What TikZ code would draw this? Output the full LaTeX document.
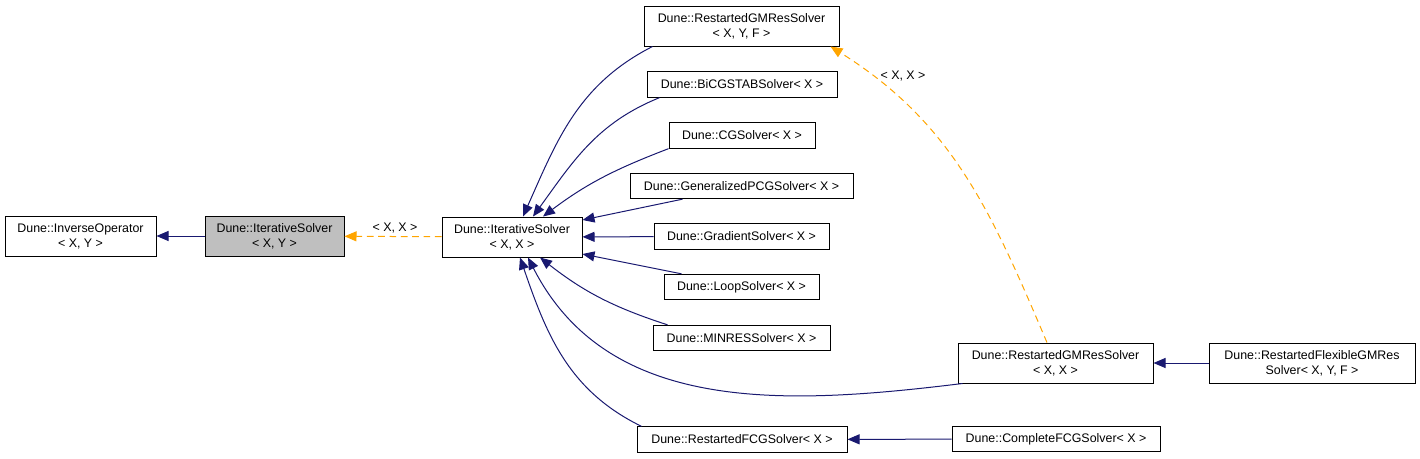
\documentclass[tikz,border=0pt]{standalone}
\usepackage{fontspec}
\setmainfont{Liberation Sans}
\usepackage{xcolor}
\usepackage{tikz}
\usetikzlibrary{arrows.meta, positioning}

\definecolor{inhblue}{HTML}{191970}
\definecolor{tmplorange}{HTML}{FFA500}
\definecolor{curgray}{HTML}{BFBFBF}
\newcommand{\clsfont}{\fontsize{9.3}{11.25}\selectfont}

\tikzset{
	cls/.style={draw=black, fill=white, rectangle, inner sep=0pt, align=center, font=\clsfont, line width=0.75pt, minimum height=19pt},
	clstwo/.style={cls, minimum height=30pt},
	inh/.style={draw=inhblue, line width=0.75pt, -{Triangle[length=9pt,width=7.5pt]}},
	tmpl/.style={draw=tmplorange, line width=0.75pt, dash pattern=on 5pt off 3.5pt, -{Triangle[length=9pt,width=7.5pt]}},
	lbl/.style={font=\clsfont, inner sep=0pt}
}

\begin{document}
\begin{tikzpicture}[x=0.75pt, y=0.75pt]
				\useasboundingbox (0,0) rectangle (1420,-458);
				% Classes:
				\node[clstwo, minimum width=113.25pt](invop) at (80.5,-236){Dune::InverseOperator\\< X, Y >};
				\node[clstwo, minimum width=104.25pt, fill=curgray](itsxy) at (274.5,-236){Dune::IterativeSolver\\< X, Y >};
				\node[clstwo, minimum width=105pt](itsxx) at (512,-237){Dune::IterativeSolver\\< X, X >};
				\node[clstwo, minimum width=146.25pt](rgmxyf) at (741.5,-26){Dune::RestartedGMResSolver\\< X, Y, F >};
				\node[cls, minimum width=142.5pt](bicg) at (742,-84.5){Dune::BiCGSTABSolver< X >};
				\node[cls, minimum width=109.5pt](cg) at (742,-135.5){Dune::CGSolver< X >};
				\node[cls, minimum width=167.25pt](gpcg) at (741.5,-186){Dune::GeneralizedPCGSolver< X >};
				\node[cls, minimum width=131.25pt](grad) at (741.5,-236.5){Dune::GradientSolver< X >};
				\node[cls, minimum width=116.25pt](loop) at (741.5,-287){Dune::LoopSolver< X >};
				\node[cls, minimum width=132.75pt](minres) at (741.5,-338){Dune::MINRESSolver< X >};
				\node[cls, minimum width=157.5pt](rfcg) at (742,-439.5){Dune::RestartedFCGSolver< X >};
				\node[clstwo, minimum width=146.25pt](rgmxx) at (1055.5,-363){Dune::RestartedGMResSolver\\< X, X >};
				\node[clstwo, minimum width=154.5pt](rfgm) at (1312,-363){Dune::RestartedFlexibleGMRes\\Solver< X, Y, F >};
				\node[cls, minimum width=156pt](cfcg) at (1056,-439){Dune::CompleteFCGSolver< X >};
				% Labels:
				\node[lbl](lblits) at (395,-228){< X, X >};
				\node[lbl](lblrgm) at (903,-76){< X, X >};
				% Inheritance:
				\draw[inh] (itsxy) -- (invop);
				\draw[tmpl] (itsxx) -- (itsxy);
				\draw[inh] ([xshift=6.75pt]rgmxyf.south west) to[out=207, in=66] ([xshift=8.25pt]itsxx.north);
				\draw[inh] ([xshift=9.75pt]bicg.south west) to[out=202, in=54] ([xshift=15.75pt]itsxx.north);
				\draw[inh] (cg.south west) to[out=201, in=37] ([xshift=23.25pt]itsxx.north);
				\draw[inh] ([xshift=39.75pt]gpcg.south west) -- ([yshift=12.75pt]itsxx.east);
				\draw[inh] (grad) -- (itsxx);
				\draw[inh] ([xshift=13.5pt]loop.north west) -- ([yshift=-12.75pt]itsxx.east);
				\draw[inh] ([xshift=11.25pt]minres.north west) to[out=162, in=322] ([xshift=21pt]itsxx.south);
				\draw[inh] ([xshift=3.75pt]rgmxx.south west) to[out=187, in=297] ([xshift=12pt]itsxx.south);
				\draw[inh] ([xshift=3.75pt]rfcg.north west) to[out=154, in=289] ([xshift=6pt]itsxx.south);
				\draw[tmpl] ([xshift=-6.4pt]rgmxx.north) to[out=113, in=328] ([xshift=-6.75pt]rgmxyf.south east);
				\draw[inh] (rfgm) -- (rgmxx);
				\draw[inh] (cfcg) -- (rfcg);
			\end{tikzpicture}
\end{document}
